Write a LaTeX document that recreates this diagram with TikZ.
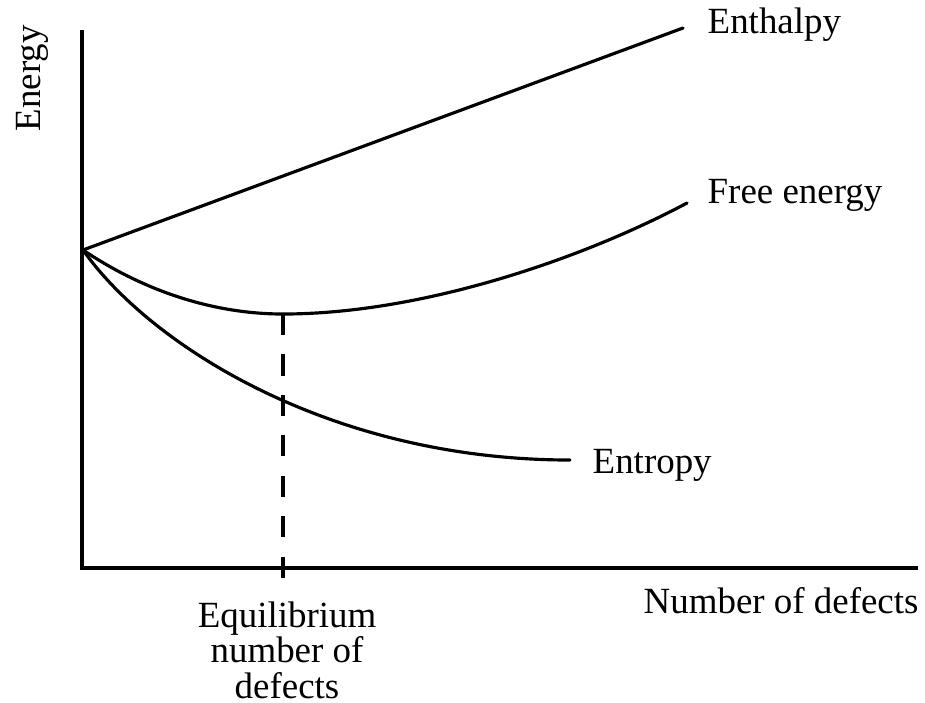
\documentclass[tikz,border=0pt]{standalone}
\usepackage{fontspec}
\setmainfont{Liberation Serif}
\usetikzlibrary{positioning}
\newcommand{\curveWidth}{0.9pt}
\newcommand{\labelFont}{\fontsize{10.5}{10.5}\selectfont}
\newcommand{\eqX}{283}

\begin{document}
\begin{tikzpicture}[x=0.01cm, y=-0.01cm, line cap=round,
    curve/.style={line width=\curveWidth},
    axislabel/.style={font=\labelFont, inner sep=0pt},
    eqline/.style={line width=\curveWidth, dash pattern=on 6pt off 5.5pt, line cap=butt}]
  \useasboundingbox (0,0) rectangle (925,702);
  % axes
  \draw [curve, line cap=butt] (82,30) coordinate (ytop) |- (918,568) coordinate (xend);
  \node (ylabel) [axislabel, rotate=90, anchor=base west] at (40,132) {Energy};
  \node (xlabel) [axislabel, anchor=base west] at (643,613) {Number of defects};
  % curves
  \coordinate (o) at (83,250);
  \coordinate (hend) at (683,28);
  \coordinate (gmin) at (\eqX,314);
  \coordinate (gend) at (687,203);
  \coordinate (send) at (570,460);
  \draw [curve] (o) -- (hend);
  \draw [curve] (o) .. controls (150,295) and (220,314) .. (gmin)
                   .. controls (420,314) and (580,260) .. (gend);
  \draw [curve] (o) .. controls (150,345) and (330,460) .. (send);
  \node (enthalpy) [axislabel, anchor=base west] at (707,33) {Enthalpy};
  \node (free) [axislabel, anchor=base west] at (707,203) {Free energy};
  \node (entropy) [axislabel, anchor=base west] at (592,473) {Entropy};
  % equilibrium
  \coordinate (eqbot) at (\eqX,585);
  \draw [eqline] (gmin) -- (eqbot);
  \node (eqlabel) [axislabel, align=center, anchor=north] at (287,601)
    {Equilibrium\\[-0.4pt]number of\\[-0.4pt]defects};
\end{tikzpicture}
\end{document}
